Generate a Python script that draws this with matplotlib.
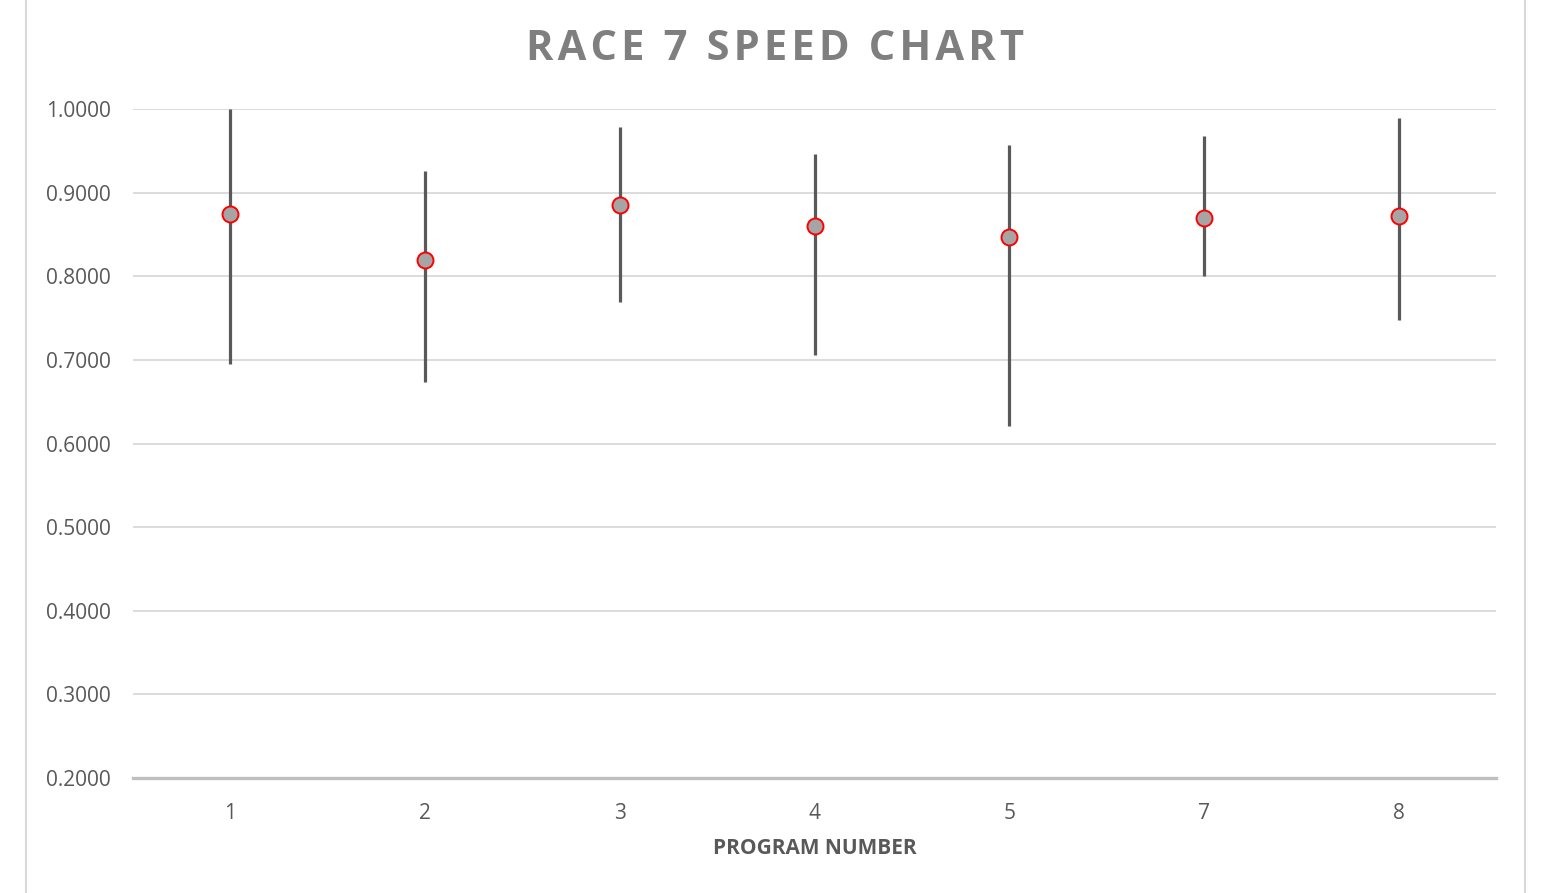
import matplotlib.pyplot as plt
import matplotlib.patches as patches

# Race 7 speed figures per program number
programs = ["1", "2", "3", "4", "5", "7", "8"]
speed_high = [1.000, 0.926, 0.978, 0.946, 0.957, 0.968, 0.989]
speed_low = [0.695, 0.674, 0.769, 0.706, 0.621, 0.800, 0.748]
speed_avg = [0.874, 0.820, 0.885, 0.860, 0.847, 0.870, 0.872]
y_ticks = [0.2, 0.3, 0.4, 0.5, 0.6, 0.7, 0.8, 0.9, 1.0]
title = "RACE 7 SPEED CHART"

plt.rcParams['font.family'] = ['Open Sans', 'DejaVu Sans']

fig = plt.figure(figsize=(15.67, 8.93), dpi=100)
ax = fig.add_axes([133 / 1567, 1 - 778 / 893, (1496 - 133) / 1567, (778 - 109) / 893])

# chart frame (partially cropped)
fig.patches.append(patches.Rectangle((26 / 1567, -0.01), (1525 - 26) / 1567, 1.1,
                                     transform=fig.transFigure, fill=False,
                                     edgecolor='#d9d9d9', linewidth=1.5))

x = list(range(len(programs)))
ax.vlines(x, speed_low, speed_high, color='#595959', linewidth=2.3, zorder=3)
ax.plot(x, speed_avg, linestyle='none', marker='o', markersize=11.5,
        markerfacecolor='#a5a5a5', markeredgecolor='#ff0000', markeredgewidth=1.4, zorder=4)

ax.set_xlim(-0.5, len(programs) - 0.5)
ax.set_ylim(0.2, 1.0)
ax.set_xticks(x)
ax.set_xticklabels(programs)
ax.set_yticks(y_ticks)
ax.set_yticklabels([f"{v:.4f}" for v in y_ticks])
ax.tick_params(length=0, labelsize=15, labelcolor='#595959')
ax.tick_params(axis='y', pad=16)
ax.tick_params(axis='x', pad=18)

ax.grid(axis='y', color='#d9d9d9', linewidth=1.3)
ax.set_axisbelow(True)
for side in ['top', 'right', 'left']:
    ax.spines[side].set_visible(False)
ax.spines['bottom'].set_color('#bfbfbf')
ax.spines['bottom'].set_linewidth(2.4)

ax.set_xlabel("PROGRAM NUMBER", fontsize=15, fontweight='bold', color='#595959', labelpad=10)
spaced_title = "\u200a".join(title)
fig.text(0.4945, 1 - 50 / 893, spaced_title,
         ha='center', va='center', fontsize=30, fontweight='bold', color='#7f7f7f')

plt.savefig("out.png", dpi=100)
